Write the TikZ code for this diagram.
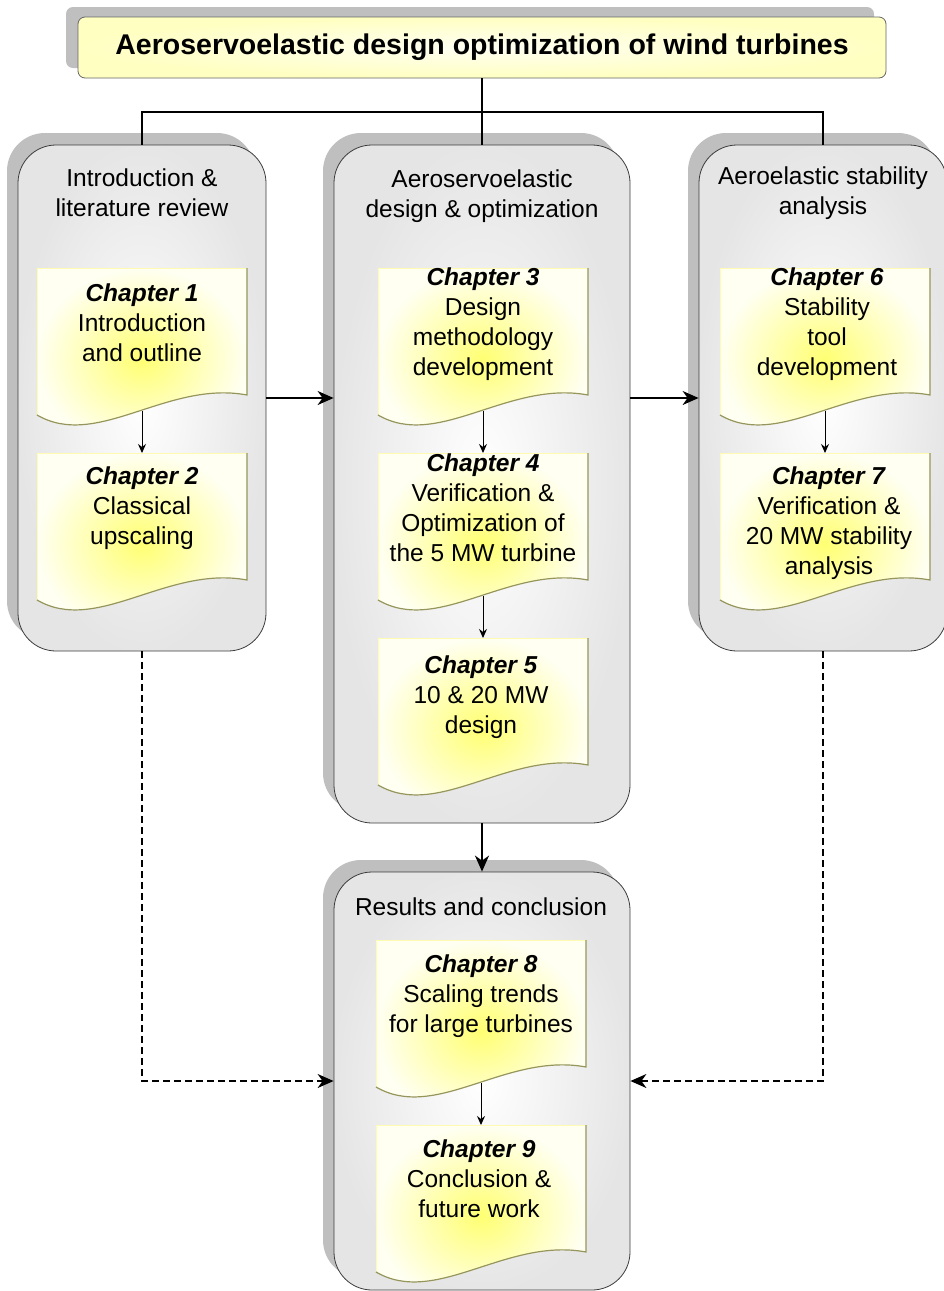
\documentclass[tikz,border=0pt]{standalone}
\usepackage{fontspec}
\setmainfont{Liberation Sans}
\usepackage{xcolor}
\usepackage{tikz}
\usetikzlibrary{arrows.meta,shadows}

\definecolor{docedge}{RGB}{150,150,92}
\definecolor{boxline}{RGB}{60,60,60}

\begin{document}
\begin{tikzpicture}[x=1pt,y=-1pt,
	txt/.style={font=\fontsize{24.5}{30}\selectfont, align=center, inner sep=0pt},
	colbox/.style={draw=boxline, line width=0.8pt, rounded corners=38pt,
		inner color=white, outer color=black!10,
		drop shadow={shadow xshift=-11pt, shadow yshift=12pt, fill=black!25, opacity=1}},
	titlebox/.style={draw=black!60, line width=0.8pt, rounded corners=7pt,
		inner color=yellow!5, outer color=yellow!24,
		minimum width=808pt, minimum height=61pt,
		font=\bfseries\fontsize{28.5}{34}\selectfont,
		drop shadow={shadow xshift=-12pt, shadow yshift=10pt, fill=black!25, opacity=1}},
	chapdoc/.pic={
		\shade[inner color=yellow!55, outer color=yellow!5] (0,0) -- (0,147) .. controls (60,182) and (130,112) .. (210,127) -- (210,0) -- cycle;
		\draw[yellow!30, line width=0.8pt] (0,147) -- (0,0) -- (210,0);
		\draw[docedge, line width=1.2pt] (210,0) -- (210,127) .. controls (130,112) and (60,182) .. (0,147);
		\coordinate (-top) at (105,0);
		\coordinate (-bot) at (105,143);
	},
	link/.style={-{Stealth[length=9pt,width=8pt,inset=3pt]}, line width=1pt},
	bigarrow/.style={-{Stealth[length=16pt,width=14pt,inset=5pt]}, line width=1.4pt},
	tree/.style={line width=1.2pt},
	dashedarrow/.style={-{Stealth[length=16pt,width=14pt,inset=5pt]}, line width=1.2pt, dash pattern=on 7pt off 4pt}
]
	\useasboundingbox (0,0) rectangle (943,1291);

	% title
	\node[titlebox] (title) at (482,47.5) {Aeroservoelastic design optimization of wind turbines};

	% column boxes
	\node[colbox, minimum width=248pt, minimum height=506pt] (intro) at (142,398) {};
	\node[colbox, minimum width=296pt, minimum height=678pt] (design) at (482,484) {};
	\node[colbox, minimum width=248pt, minimum height=506pt] (stab) at (823,398) {};
	\node[colbox, minimum width=296pt, minimum height=418pt] (res) at (482,1081) {};

	\node[txt] (introhead) at (142,193) {Introduction \&\\literature review};
	\node[txt] (designhead) at (482,196) {Aeroservoelastic\\design \& optimization};
	\node[txt] (stabhead) at (823,193) {Aeroelastic stability\\analysis};
	\node[txt] (reshead) at (481,907) {Results and conclusion};

	% chapters
	\pic (d1) at (37,268) {chapdoc};
	\pic (d2) at (37,453) {chapdoc};
	\pic (d3) at (378,268) {chapdoc};
	\pic (d4) at (378,453) {chapdoc};
	\pic (d5) at (378,638) {chapdoc};
	\pic (d6) at (720,268) {chapdoc};
	\pic (d7) at (720,453) {chapdoc};
	\pic (d8) at (376,940) {chapdoc};
	\pic (d9) at (376,1125) {chapdoc};

	\node[txt] (ch1) at (142,323) {\textbf{\textit{Chapter 1}}\\Introduction\\and outline};
	\node[txt] (ch2) at (142,508) {\textbf{\textit{Chapter 2}}\\Classical\\upscaling};
	\node[txt] (ch3) at (483,324) {\textbf{\textit{Chapter 3}}\\Design\\methodology\\development};
	\node[txt] (ch4) at (483,508) {\textbf{\textit{Chapter 4}}\\Verification \&\\Optimization of\\the 5 MW turbine};
	\node[txt] (ch5) at (481,697) {\textbf{\textit{Chapter 5}}\\10 \& 20 MW\\design};
	\node[txt] (ch6) at (827,324) {\textbf{\textit{Chapter 6}}\\Stability\\tool\\development};
	\node[txt] (ch7) at (829,523) {\textbf{\textit{Chapter 7}}\\Verification \&\\20 MW stability\\analysis};
	\node[txt] (ch8) at (481,996) {\textbf{\textit{Chapter 8}}\\Scaling trends\\for large turbines};
	\node[txt] (ch9) at (479,1179) {\textbf{\textit{Chapter 9}}\\Conclusion \&\\future work};

	% links between chapters
	\draw[link] (d1-bot) -- (d2-top);
	\draw[link] (d3-bot) -- (d4-top);
	\draw[link] (d4-bot) -- (d5-top);
	\draw[link] (d6-bot) -- (d7-top);
	\draw[link] (d8-bot) -- (d9-top);

	% tree below the title
	\coordinate (split) at (482,112);
	\draw[tree] (title.south) -- (split);
	\draw[tree] (split) -- (design.north);
	\draw[tree] (intro.north) |- (split) -| (stab.north);

	% arrows between the columns
	\draw[bigarrow] (intro.east) -- (design.west |- intro.east);
	\draw[bigarrow] (design.east |- stab.west) -- (stab.west);
	\draw[bigarrow, line width=2pt] (design.south) -- (res.north);
	\draw[dashedarrow] (intro.south) |- (res.west);
	\draw[dashedarrow] (stab.south) |- (res.east);
\end{tikzpicture}
\end{document}
